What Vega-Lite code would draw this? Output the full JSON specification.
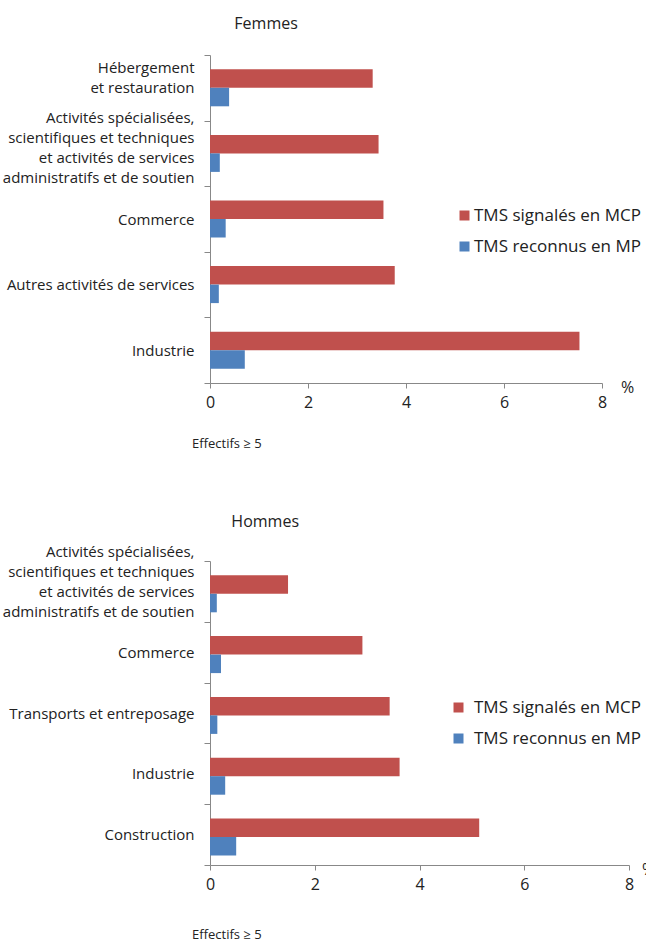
{
  "$schema": "https://vega.github.io/schema/vega-lite/v6.json",
  "background": "white",
  "padding": {"left": 2, "top": 16, "right": 0, "bottom": 0},
  "datasets": {
    "femmes": [
      {"secteur": "Hébergement\net restauration", "serie": "TMS signalés en MCP", "valeur": 3.32},
      {"secteur": "Hébergement\net restauration", "serie": "TMS reconnus en MP", "valeur": 0.39},
      {"secteur": "Activités spécialisées,\nscientifiques et techniques\net activités de services\nadministratifs et de soutien", "serie": "TMS signalés en MCP", "valeur": 3.44},
      {"secteur": "Activités spécialisées,\nscientifiques et techniques\net activités de services\nadministratifs et de soutien", "serie": "TMS reconnus en MP", "valeur": 0.2},
      {"secteur": "Commerce", "serie": "TMS signalés en MCP", "valeur": 3.54},
      {"secteur": "Commerce", "serie": "TMS reconnus en MP", "valeur": 0.32},
      {"secteur": "Autres activités de services", "serie": "TMS signalés en MCP", "valeur": 3.77},
      {"secteur": "Autres activités de services", "serie": "TMS reconnus en MP", "valeur": 0.18},
      {"secteur": "Industrie", "serie": "TMS signalés en MCP", "valeur": 7.54},
      {"secteur": "Industrie", "serie": "TMS reconnus en MP", "valeur": 0.71}
    ],
    "hommes": [
      {"secteur": "Activités spécialisées,\nscientifiques et techniques\net activités de services\nadministratifs et de soutien", "serie": "TMS signalés en MCP", "valeur": 1.49},
      {"secteur": "Activités spécialisées,\nscientifiques et techniques\net activités de services\nadministratifs et de soutien", "serie": "TMS reconnus en MP", "valeur": 0.13},
      {"secteur": "Commerce", "serie": "TMS signalés en MCP", "valeur": 2.91},
      {"secteur": "Commerce", "serie": "TMS reconnus en MP", "valeur": 0.21},
      {"secteur": "Transports et entreposage", "serie": "TMS signalés en MCP", "valeur": 3.43},
      {"secteur": "Transports et entreposage", "serie": "TMS reconnus en MP", "valeur": 0.14},
      {"secteur": "Industrie", "serie": "TMS signalés en MCP", "valeur": 3.62},
      {"secteur": "Industrie", "serie": "TMS reconnus en MP", "valeur": 0.29},
      {"secteur": "Construction", "serie": "TMS signalés en MCP", "valeur": 5.14},
      {"secteur": "Construction", "serie": "TMS reconnus en MP", "valeur": 0.5}
    ]
  },
  "config": {
    "font": "Open Sans",
    "view": {"stroke": null},
    "axis": {"grid": false, "domainColor": "#888888", "tickColor": "#888888", "labelColor": "#222222"},
    "axisY": {"tickBand": "extent", "tickSize": 6, "labelFontSize": 15, "labelLineHeight": 20, "labelPadding": 10, "labelLimit": 0, "title": null},
    "axisX": {"tickSize": 5, "labelFontSize": 16, "labelPadding": 6, "labelFlush": false, "titleFontSize": 16, "titleFontWeight": "normal", "titleColor": "#222222"},
    "legend": {"orient": "none", "title": null, "symbolType": "square", "symbolSize": 100, "symbolStrokeWidth": 0, "labelFontSize": 17, "labelLimit": 0, "labelColor": "#222222", "rowPadding": 13},
    "title": {"fontSize": 16, "fontWeight": "normal", "color": "#222222"}
  },
  "resolve": {"legend": {"color": "independent"}},
  "spacing": 63,
  "vconcat": [
    {
      "title": {"text": "Femmes", "anchor": "start", "dx": 232, "offset": 16},
      "vconcat": [
        {
          "data": {"name": "femmes"},
          "width": 392,
          "height": 328,
          "title": {"text": "Effectifs ≥ 5", "orient": "bottom", "anchor": "start", "frame": "group", "dx": -18, "offset": 28, "fontSize": 13},
          "mark": {"type": "bar"},
          "encoding": {
            "y": {"field": "secteur", "type": "nominal", "sort": null, "scale": {"paddingInner": 0, "paddingOuter": 0},
              "axis": {"labelExpr": "split(datum.label, '\\n')",
                "labelOffset": {"condition": [{"test": "length(split(datum.value, '\\n')) == 4", "value": -36}, {"test": "length(split(datum.value, '\\n')) == 2", "value": -20}], "value": 0}}},
            "yOffset": {"field": "serie", "type": "nominal", "sort": ["TMS signalés en MCP", "TMS reconnus en MP"], "scale": {"paddingInner": 0, "paddingOuter": 0.773}},
            "x": {"field": "valeur", "type": "quantitative", "scale": {"domain": [0, 8]}, "axis": {"values": [0, 2, 4, 6, 8], "title": "%", "titleAnchor": "end", "titleAlign": "center", "titleBaseline": "middle", "titleX": 417, "titleY": 4}},
            "color": {"field": "serie", "type": "nominal", "scale": {"domain": ["TMS signalés en MCP", "TMS reconnus en MP"], "range": ["#C0504D", "#4F81BD"]}, "legend": {"legendX": 246, "legendY": 152, "labelOffset": 1}}
          }
        }
      ]
    },
    {
      "title": {"text": "Hommes", "anchor": "start", "dx": 229, "offset": 14},
      "vconcat": [
        {
          "data": {"name": "hommes"},
          "width": 419,
          "height": 304,
          "title": {"text": "Effectifs ≥ 5", "orient": "bottom", "anchor": "start", "frame": "group", "dx": -18, "offset": 37, "fontSize": 13},
          "mark": {"type": "bar"},
          "encoding": {
            "y": {"field": "secteur", "type": "nominal", "sort": null, "scale": {"paddingInner": 0, "paddingOuter": 0},
              "axis": {"labelExpr": "split(datum.label, '\\n')",
                "labelOffset": {"condition": [{"test": "length(split(datum.value, '\\n')) == 4", "value": -40}, {"test": "length(split(datum.value, '\\n')) == 2", "value": -20}], "value": 0}}},
            "yOffset": {"field": "serie", "type": "nominal", "sort": ["TMS signalés en MCP", "TMS reconnus en MP"], "scale": {"paddingInner": 0, "paddingOuter": 0.752}},
            "x": {"field": "valeur", "type": "quantitative", "scale": {"domain": [0, 8]}, "axis": {"values": [0, 2, 4, 6, 8], "title": "%", "titleAnchor": "end", "titleAlign": "center", "titleBaseline": "middle", "titleX": 438, "titleY": 4}},
            "color": {"field": "serie", "type": "nominal", "scale": {"domain": ["TMS signalés en MCP", "TMS reconnus en MP"], "range": ["#C0504D", "#4F81BD"]}, "legend": {"legendX": 240, "legendY": 138, "labelOffset": 7}}
          }
        }
      ]
    }
  ]
}
